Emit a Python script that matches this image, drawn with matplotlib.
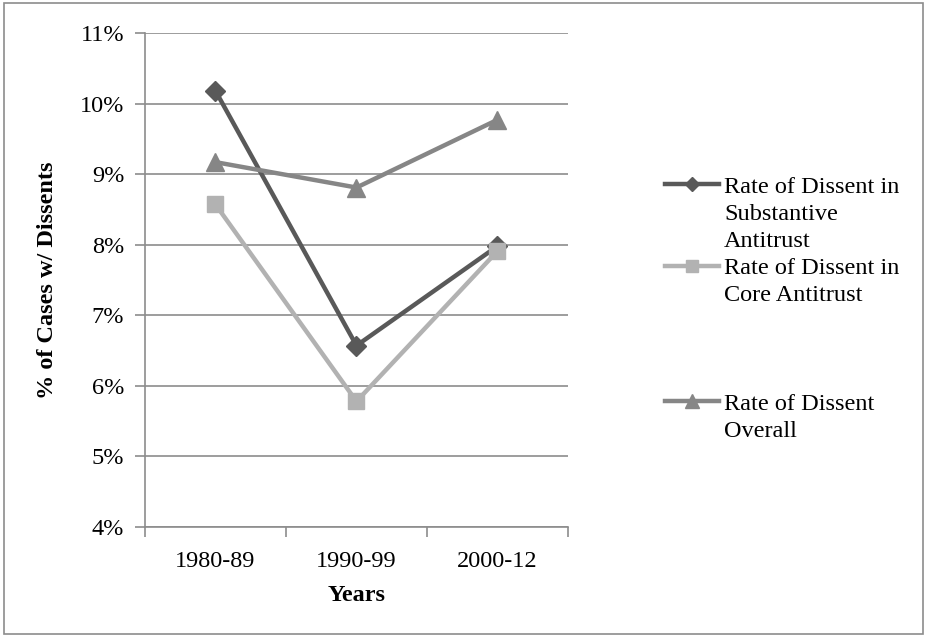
import matplotlib.pyplot as plt
from matplotlib.lines import Line2D
from matplotlib.ticker import FixedLocator, FuncFormatter

plt.rcParams['font.family'] = ['Liberation Serif', 'DejaVu Serif']

years = ["1980-89", "1990-99", "2000-12"]
substantive = [10.18, 6.57, 7.98]
core = [8.57, 5.78, 7.91]
overall = [9.17, 8.81, 9.77]
labels = [["Rate of Dissent in", "Substantive", "Antitrust"],
          ["Rate of Dissent in", "Core Antitrust"],
          ["Rate of Dissent", "Overall"]]

GRID = '#8c8c8c'
FS = 17.5

def main():
    fig = plt.figure(figsize=(9.27, 6.37), dpi=100)
    ax = fig.add_axes([0.1564, 0.1727, 0.4563, 0.7755])
    x = list(range(len(years)))

    styles = [
        (substantive, '#595959', 'D', 10),
        (core, '#b2b2b2', 's', 12),
        (overall, '#868686', '^', 13),
    ]
    handles = []
    for vals, col, mk, ms in styles:
        h, = ax.plot(x, vals, color=col, lw=3.2, marker=mk, markersize=ms,
                     markeredgecolor=col, markerfacecolor=col, zorder=3)
        handles.append(h)

    ax.set_xlim(-0.5, 2.5)
    ax.set_ylim(4, 11)
    ax.set_yticks(range(4, 12))
    ax.yaxis.set_major_formatter(FuncFormatter(lambda v, p: "%d%%" % v))
    ax.set_xticks(x)
    ax.set_xticklabels(years)
    ax.xaxis.set_minor_locator(FixedLocator([-0.5, 0.5, 1.5, 2.5]))
    ax.tick_params(axis='x', which='major', length=0, pad=17, labelsize=FS)
    ax.tick_params(axis='x', which='minor', length=7, color=GRID, width=1.2)
    ax.tick_params(axis='y', length=7, color=GRID, width=1.2, labelsize=FS, pad=8)
    ax.grid(axis='y', color=GRID, lw=1.2)
    ax.set_axisbelow(True)
    for s in ['top', 'right']:
        ax.spines[s].set_visible(False)
    for s in ['left', 'bottom']:
        ax.spines[s].set_color(GRID)
        ax.spines[s].set_linewidth(1.2)

    ax.set_xlabel("Years", fontsize=FS, fontweight='bold', labelpad=10)
    ax.set_ylabel("% of Cases w/ Dissents", fontsize=FS, fontweight='bold', labelpad=16)

    # one legend, one row per text line; blank rows give the gap before the last entry
    blank = Line2D([], [], color='none')
    leg_h, leg_l = [], []
    for i, (h, lines) in enumerate(zip(handles, labels)):
        for j, t in enumerate(lines):
            leg_h.append(h if j == 0 else blank)
            leg_l.append(t)
        if i == 1:
            for k in range(3):
                leg_h.append(blank)
                leg_l.append(" ")
    fig.legend(leg_h, leg_l, loc='upper left', bbox_to_anchor=(0.717, 0.724),
               frameon=False, fontsize=FS, handlelength=2.25, handletextpad=0.2,
               labelspacing=0.21, borderpad=0, borderaxespad=0, markerscale=0.75)

    border = plt.Rectangle((0.004, 0.004), 0.992, 0.992, transform=fig.transFigure,
                           fill=False, edgecolor='#8c8c8c', lw=1.2)
    fig.patches.append(border)

    fig.savefig('out.png', dpi=100)
    plt.close(fig)


if __name__ == "__main__":
    main()
